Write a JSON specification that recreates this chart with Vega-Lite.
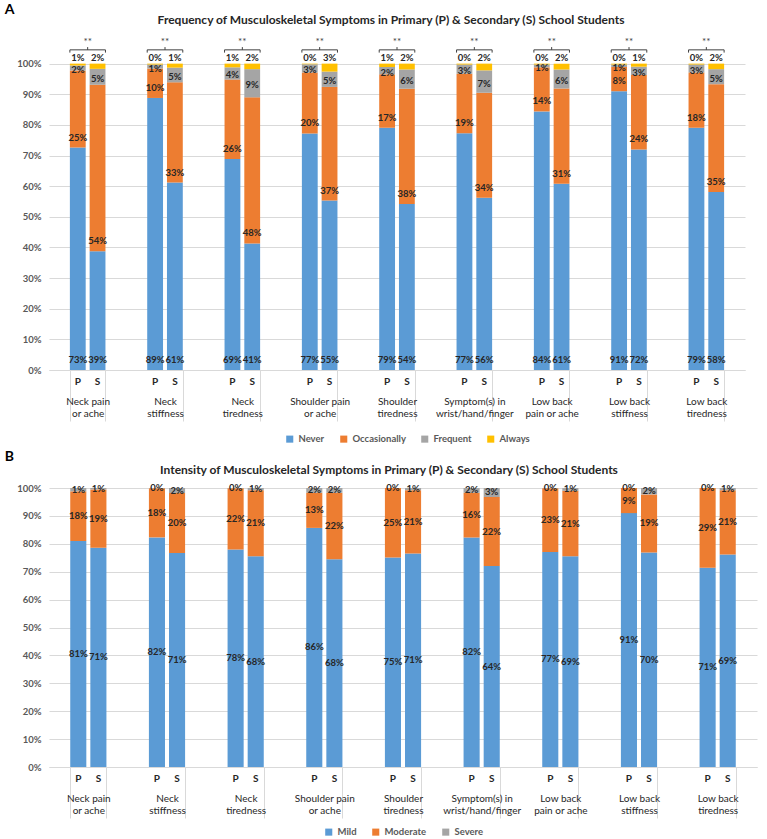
{
  "$schema": "https://vega.github.io/schema/vega-lite/v6.json",
  "padding": {"left": 4, "top": 3, "right": 4, "bottom": 0},
  "background": "white",
  "datasets": {
    "frequency": [
      {"symptom": "Neck pain\nor ache", "school": "P", "level": "Never", "pct": 0.726},
      {"symptom": "Neck pain\nor ache", "school": "P", "level": "Occasionally", "pct": 0.252},
      {"symptom": "Neck pain\nor ache", "school": "P", "level": "Frequent", "pct": 0.016},
      {"symptom": "Neck pain\nor ache", "school": "P", "level": "Always", "pct": 0.006},
      {"symptom": "Neck pain\nor ache", "school": "S", "level": "Never", "pct": 0.388},
      {"symptom": "Neck pain\nor ache", "school": "S", "level": "Occasionally", "pct": 0.543},
      {"symptom": "Neck pain\nor ache", "school": "S", "level": "Frequent", "pct": 0.052},
      {"symptom": "Neck pain\nor ache", "school": "S", "level": "Always", "pct": 0.017},
      {"symptom": "Neck\nstiffness", "school": "P", "level": "Never", "pct": 0.888},
      {"symptom": "Neck\nstiffness", "school": "P", "level": "Occasionally", "pct": 0.096},
      {"symptom": "Neck\nstiffness", "school": "P", "level": "Frequent", "pct": 0.013},
      {"symptom": "Neck\nstiffness", "school": "P", "level": "Always", "pct": 0.003},
      {"symptom": "Neck\nstiffness", "school": "S", "level": "Never", "pct": 0.612},
      {"symptom": "Neck\nstiffness", "school": "S", "level": "Occasionally", "pct": 0.327},
      {"symptom": "Neck\nstiffness", "school": "S", "level": "Frequent", "pct": 0.048},
      {"symptom": "Neck\nstiffness", "school": "S", "level": "Always", "pct": 0.013},
      {"symptom": "Neck\ntiredness", "school": "P", "level": "Never", "pct": 0.689},
      {"symptom": "Neck\ntiredness", "school": "P", "level": "Occasionally", "pct": 0.259},
      {"symptom": "Neck\ntiredness", "school": "P", "level": "Frequent", "pct": 0.04},
      {"symptom": "Neck\ntiredness", "school": "P", "level": "Always", "pct": 0.012},
      {"symptom": "Neck\ntiredness", "school": "S", "level": "Never", "pct": 0.413},
      {"symptom": "Neck\ntiredness", "school": "S", "level": "Occasionally", "pct": 0.477},
      {"symptom": "Neck\ntiredness", "school": "S", "level": "Frequent", "pct": 0.092},
      {"symptom": "Neck\ntiredness", "school": "S", "level": "Always", "pct": 0.018},
      {"symptom": "Shoulder pain\nor ache", "school": "P", "level": "Never", "pct": 0.772},
      {"symptom": "Shoulder pain\nor ache", "school": "P", "level": "Occasionally", "pct": 0.199},
      {"symptom": "Shoulder pain\nor ache", "school": "P", "level": "Frequent", "pct": 0.027},
      {"symptom": "Shoulder pain\nor ache", "school": "P", "level": "Always", "pct": 0.002},
      {"symptom": "Shoulder pain\nor ache", "school": "S", "level": "Never", "pct": 0.553},
      {"symptom": "Shoulder pain\nor ache", "school": "S", "level": "Occasionally", "pct": 0.371},
      {"symptom": "Shoulder pain\nor ache", "school": "S", "level": "Frequent", "pct": 0.05},
      {"symptom": "Shoulder pain\nor ache", "school": "S", "level": "Always", "pct": 0.026},
      {"symptom": "Shoulder\ntiredness", "school": "P", "level": "Never", "pct": 0.791},
      {"symptom": "Shoulder\ntiredness", "school": "P", "level": "Occasionally", "pct": 0.174},
      {"symptom": "Shoulder\ntiredness", "school": "P", "level": "Frequent", "pct": 0.024},
      {"symptom": "Shoulder\ntiredness", "school": "P", "level": "Always", "pct": 0.011},
      {"symptom": "Shoulder\ntiredness", "school": "S", "level": "Never", "pct": 0.542},
      {"symptom": "Shoulder\ntiredness", "school": "S", "level": "Occasionally", "pct": 0.376},
      {"symptom": "Shoulder\ntiredness", "school": "S", "level": "Frequent", "pct": 0.063},
      {"symptom": "Shoulder\ntiredness", "school": "S", "level": "Always", "pct": 0.019},
      {"symptom": "Symptom(s) in\nwrist/hand/finger", "school": "P", "level": "Never", "pct": 0.773},
      {"symptom": "Symptom(s) in\nwrist/hand/finger", "school": "P", "level": "Occasionally", "pct": 0.194},
      {"symptom": "Symptom(s) in\nwrist/hand/finger", "school": "P", "level": "Frequent", "pct": 0.03},
      {"symptom": "Symptom(s) in\nwrist/hand/finger", "school": "P", "level": "Always", "pct": 0.003},
      {"symptom": "Symptom(s) in\nwrist/hand/finger", "school": "S", "level": "Never", "pct": 0.562},
      {"symptom": "Symptom(s) in\nwrist/hand/finger", "school": "S", "level": "Occasionally", "pct": 0.343},
      {"symptom": "Symptom(s) in\nwrist/hand/finger", "school": "S", "level": "Frequent", "pct": 0.073},
      {"symptom": "Symptom(s) in\nwrist/hand/finger", "school": "S", "level": "Always", "pct": 0.022},
      {"symptom": "Low back\npain or ache", "school": "P", "level": "Never", "pct": 0.844},
      {"symptom": "Low back\npain or ache", "school": "P", "level": "Occasionally", "pct": 0.144},
      {"symptom": "Low back\npain or ache", "school": "P", "level": "Frequent", "pct": 0.009},
      {"symptom": "Low back\npain or ache", "school": "P", "level": "Always", "pct": 0.003},
      {"symptom": "Low back\npain or ache", "school": "S", "level": "Never", "pct": 0.608},
      {"symptom": "Low back\npain or ache", "school": "S", "level": "Occasionally", "pct": 0.311},
      {"symptom": "Low back\npain or ache", "school": "S", "level": "Frequent", "pct": 0.062},
      {"symptom": "Low back\npain or ache", "school": "S", "level": "Always", "pct": 0.019},
      {"symptom": "Low back\nstiffness", "school": "P", "level": "Never", "pct": 0.91},
      {"symptom": "Low back\nstiffness", "school": "P", "level": "Occasionally", "pct": 0.079},
      {"symptom": "Low back\nstiffness", "school": "P", "level": "Frequent", "pct": 0.008},
      {"symptom": "Low back\nstiffness", "school": "P", "level": "Always", "pct": 0.003},
      {"symptom": "Low back\nstiffness", "school": "S", "level": "Never", "pct": 0.72},
      {"symptom": "Low back\nstiffness", "school": "S", "level": "Occasionally", "pct": 0.243},
      {"symptom": "Low back\nstiffness", "school": "S", "level": "Frequent", "pct": 0.027},
      {"symptom": "Low back\nstiffness", "school": "S", "level": "Always", "pct": 0.01},
      {"symptom": "Low back\ntiredness", "school": "P", "level": "Never", "pct": 0.791},
      {"symptom": "Low back\ntiredness", "school": "P", "level": "Occasionally", "pct": 0.18},
      {"symptom": "Low back\ntiredness", "school": "P", "level": "Frequent", "pct": 0.026},
      {"symptom": "Low back\ntiredness", "school": "P", "level": "Always", "pct": 0.003},
      {"symptom": "Low back\ntiredness", "school": "S", "level": "Never", "pct": 0.581},
      {"symptom": "Low back\ntiredness", "school": "S", "level": "Occasionally", "pct": 0.352},
      {"symptom": "Low back\ntiredness", "school": "S", "level": "Frequent", "pct": 0.049},
      {"symptom": "Low back\ntiredness", "school": "S", "level": "Always", "pct": 0.018}
    ],
    "intensity": [
      {"symptom": "Neck pain\nor ache", "school": "P", "level": "Mild", "pct": 0.81, "label": 0.81},
      {"symptom": "Neck pain\nor ache", "school": "P", "level": "Moderate", "pct": 0.178, "label": 0.18},
      {"symptom": "Neck pain\nor ache", "school": "P", "level": "Severe", "pct": 0.012, "label": 0.01},
      {"symptom": "Neck pain\nor ache", "school": "S", "level": "Mild", "pct": 0.786, "label": 0.71},
      {"symptom": "Neck pain\nor ache", "school": "S", "level": "Moderate", "pct": 0.209, "label": 0.19},
      {"symptom": "Neck pain\nor ache", "school": "S", "level": "Severe", "pct": 0.005, "label": 0.01},
      {"symptom": "Neck\nstiffness", "school": "P", "level": "Mild", "pct": 0.823, "label": 0.82},
      {"symptom": "Neck\nstiffness", "school": "P", "level": "Moderate", "pct": 0.176, "label": 0.18},
      {"symptom": "Neck\nstiffness", "school": "P", "level": "Severe", "pct": 0.001, "label": 0},
      {"symptom": "Neck\nstiffness", "school": "S", "level": "Mild", "pct": 0.767, "label": 0.71},
      {"symptom": "Neck\nstiffness", "school": "S", "level": "Moderate", "pct": 0.215, "label": 0.2},
      {"symptom": "Neck\nstiffness", "school": "S", "level": "Severe", "pct": 0.018, "label": 0.02},
      {"symptom": "Neck\ntiredness", "school": "P", "level": "Mild", "pct": 0.78, "label": 0.78},
      {"symptom": "Neck\ntiredness", "school": "P", "level": "Moderate", "pct": 0.219, "label": 0.22},
      {"symptom": "Neck\ntiredness", "school": "P", "level": "Severe", "pct": 0.001, "label": 0},
      {"symptom": "Neck\ntiredness", "school": "S", "level": "Mild", "pct": 0.755, "label": 0.68},
      {"symptom": "Neck\ntiredness", "school": "S", "level": "Moderate", "pct": 0.237, "label": 0.21},
      {"symptom": "Neck\ntiredness", "school": "S", "level": "Severe", "pct": 0.008, "label": 0.01},
      {"symptom": "Shoulder pain\nor ache", "school": "P", "level": "Mild", "pct": 0.857, "label": 0.86},
      {"symptom": "Shoulder pain\nor ache", "school": "P", "level": "Moderate", "pct": 0.126, "label": 0.13},
      {"symptom": "Shoulder pain\nor ache", "school": "P", "level": "Severe", "pct": 0.017, "label": 0.02},
      {"symptom": "Shoulder pain\nor ache", "school": "S", "level": "Mild", "pct": 0.745, "label": 0.68},
      {"symptom": "Shoulder pain\nor ache", "school": "S", "level": "Moderate", "pct": 0.238, "label": 0.22},
      {"symptom": "Shoulder pain\nor ache", "school": "S", "level": "Severe", "pct": 0.017, "label": 0.02},
      {"symptom": "Shoulder\ntiredness", "school": "P", "level": "Mild", "pct": 0.751, "label": 0.75},
      {"symptom": "Shoulder\ntiredness", "school": "P", "level": "Moderate", "pct": 0.249, "label": 0.25},
      {"symptom": "Shoulder\ntiredness", "school": "P", "level": "Severe", "pct": 0, "label": 0},
      {"symptom": "Shoulder\ntiredness", "school": "S", "level": "Mild", "pct": 0.765, "label": 0.71},
      {"symptom": "Shoulder\ntiredness", "school": "S", "level": "Moderate", "pct": 0.227, "label": 0.21},
      {"symptom": "Shoulder\ntiredness", "school": "S", "level": "Severe", "pct": 0.008, "label": 0.01},
      {"symptom": "Symptom(s) in\nwrist/hand/finger", "school": "P", "level": "Mild", "pct": 0.823, "label": 0.82},
      {"symptom": "Symptom(s) in\nwrist/hand/finger", "school": "P", "level": "Moderate", "pct": 0.16, "label": 0.16},
      {"symptom": "Symptom(s) in\nwrist/hand/finger", "school": "P", "level": "Severe", "pct": 0.017, "label": 0.02},
      {"symptom": "Symptom(s) in\nwrist/hand/finger", "school": "S", "level": "Mild", "pct": 0.72, "label": 0.64},
      {"symptom": "Symptom(s) in\nwrist/hand/finger", "school": "S", "level": "Moderate", "pct": 0.248, "label": 0.22},
      {"symptom": "Symptom(s) in\nwrist/hand/finger", "school": "S", "level": "Severe", "pct": 0.032, "label": 0.03},
      {"symptom": "Low back\npain or ache", "school": "P", "level": "Mild", "pct": 0.771, "label": 0.77},
      {"symptom": "Low back\npain or ache", "school": "P", "level": "Moderate", "pct": 0.228, "label": 0.23},
      {"symptom": "Low back\npain or ache", "school": "P", "level": "Severe", "pct": 0.001, "label": 0},
      {"symptom": "Low back\npain or ache", "school": "S", "level": "Mild", "pct": 0.755, "label": 0.69},
      {"symptom": "Low back\npain or ache", "school": "S", "level": "Moderate", "pct": 0.235, "label": 0.21},
      {"symptom": "Low back\npain or ache", "school": "S", "level": "Severe", "pct": 0.01, "label": 0.01},
      {"symptom": "Low back\nstiffness", "school": "P", "level": "Mild", "pct": 0.91, "label": 0.91},
      {"symptom": "Low back\nstiffness", "school": "P", "level": "Moderate", "pct": 0.09, "label": 0.09},
      {"symptom": "Low back\nstiffness", "school": "P", "level": "Severe", "pct": 0, "label": 0},
      {"symptom": "Low back\nstiffness", "school": "S", "level": "Mild", "pct": 0.769, "label": 0.7},
      {"symptom": "Low back\nstiffness", "school": "S", "level": "Moderate", "pct": 0.208, "label": 0.19},
      {"symptom": "Low back\nstiffness", "school": "S", "level": "Severe", "pct": 0.023, "label": 0.02},
      {"symptom": "Low back\ntiredness", "school": "P", "level": "Mild", "pct": 0.714, "label": 0.71},
      {"symptom": "Low back\ntiredness", "school": "P", "level": "Moderate", "pct": 0.286, "label": 0.29},
      {"symptom": "Low back\ntiredness", "school": "P", "level": "Severe", "pct": 0, "label": 0},
      {"symptom": "Low back\ntiredness", "school": "S", "level": "Mild", "pct": 0.762, "label": 0.69},
      {"symptom": "Low back\ntiredness", "school": "S", "level": "Moderate", "pct": 0.23, "label": 0.21},
      {"symptom": "Low back\ntiredness", "school": "S", "level": "Severe", "pct": 0.008, "label": 0.01}
    ],
    "significance": [
      {"symptom": "Neck pain\nor ache", "sig": "**"},
      {"symptom": "Neck\nstiffness", "sig": "**"},
      {"symptom": "Neck\ntiredness", "sig": "**"},
      {"symptom": "Shoulder pain\nor ache", "sig": "**"},
      {"symptom": "Shoulder\ntiredness", "sig": "**"},
      {"symptom": "Symptom(s) in\nwrist/hand/finger", "sig": "**"},
      {"symptom": "Low back\npain or ache", "sig": "**"},
      {"symptom": "Low back\nstiffness", "sig": "**"},
      {"symptom": "Low back\ntiredness", "sig": "**"}
    ]
  },
  "spacing": 6,
  "vconcat": [
    {
      "title": {"text": "A", "anchor": "start", "fontSize": 14, "fontWeight": "bold", "color": "black", "dx": -12, "offset": -3},
      "vconcat": [
        {
          "width": 696,
          "height": 337,
          "title": {"text": "Frequency of Musculoskeletal Symptoms in Primary (P) & Secondary (S)  School Students", "dx": -6},
          "layer": [
            {
              "data": {"name": "frequency"},
              "transform": [
                {"calculate": "indexof(['Never','Occasionally','Frequent','Always'], datum.level)", "as": "ord"},
                {"stack": "pct", "groupby": ["symptom", "school"], "sort": [{"field": "ord", "order": "ascending"}], "as": ["y0", "y1"]},
                {"calculate": "(datum.y0 + datum.y1) / 2", "as": "ymid"}
              ],
              "layer": [
                {
                  "mark": {"type": "bar"},
                  "encoding": {
                    "x": {
                      "field": "symptom", "type": "nominal",
                      "sort": ["Neck pain\nor ache", "Neck\nstiffness", "Neck\ntiredness", "Shoulder pain\nor ache", "Shoulder\ntiredness", "Symptom(s) in\nwrist/hand/finger", "Low back\npain or ache", "Low back\nstiffness", "Low back\ntiredness"],
                      "scale": {"paddingInner": 0.54, "paddingOuter": 0.27},
                      "axis": {"title": null, "labelExpr": "split(datum.label, '\\n')", "tickBand": "extent", "tickSize": 51, "tickColor": "#d9d9d9", "domainColor": "#d9d9d9", "labelPadding": -25, "labelAngle": 0, "labelBaseline": "top", "labelLineHeight": 12, "labelFontWeight": "normal", "labelColor": "#262626", "labelFontSize": 10}
                    },
                    "xOffset": {"field": "school", "type": "nominal", "scale": {"paddingInner": 0.2}},
                    "y": {
                      "field": "y1", "type": "quantitative",
                      "scale": {"domain": [0, 1.1], "nice": false},
                      "axis": {"title": null, "values": [0, 0.1, 0.2, 0.3, 0.4, 0.5, 0.6, 0.7, 0.8, 0.9, 1], "format": ".0%", "grid": true, "gridColor": "#d9d9d9", "domain": false, "ticks": false, "labelPadding": 8, "labelOverlap": false}
                    },
                    "y2": {"field": "y0"},
                    "color": {
                      "field": "level", "type": "nominal",
                      "scale": {"domain": ["Never", "Occasionally", "Frequent", "Always"], "range": ["#5b9bd5", "#ed7d31", "#a5a5a5", "#ffc000"]},
                      "legend": {"title": null, "orient": "none", "legendX": 236, "legendY": 401, "direction": "horizontal", "symbolType": "square", "symbolSize": 50, "columnPadding": 14}
                    }
                  }
                },
                {
                  "transform": [{"filter": "datum.level === 'Never'"}],
                  "mark": {"type": "text", "dy": 12, "fontSize": 10},
                  "encoding": {
                    "x": {"field": "symptom", "type": "nominal", "sort": ["Neck pain\nor ache", "Neck\nstiffness", "Neck\ntiredness", "Shoulder pain\nor ache", "Shoulder\ntiredness", "Symptom(s) in\nwrist/hand/finger", "Low back\npain or ache", "Low back\nstiffness", "Low back\ntiredness"]},
                    "xOffset": {"field": "school", "type": "nominal"},
                    "y": {"datum": 0, "axis": {"title": null, "values": [0, 0.1, 0.2, 0.3, 0.4, 0.5, 0.6, 0.7, 0.8, 0.9, 1], "format": ".0%", "grid": true, "gridColor": "#d9d9d9", "domain": false, "ticks": false, "labelPadding": 8, "labelOverlap": false}},
                    "text": {"field": "school"}
                  }
                },
                {
                  "transform": [{"filter": "datum.level === 'Never' || datum.level === 'Occasionally'"}],
                  "mark": {"type": "text", "dy": -10},
                  "encoding": {
                    "x": {"field": "symptom", "type": "nominal", "sort": ["Neck pain\nor ache", "Neck\nstiffness", "Neck\ntiredness", "Shoulder pain\nor ache", "Shoulder\ntiredness", "Symptom(s) in\nwrist/hand/finger", "Low back\npain or ache", "Low back\nstiffness", "Low back\ntiredness"]},
                    "xOffset": {"field": "school", "type": "nominal"},
                    "y": {"field": "y0", "type": "quantitative", "axis": {"title": null, "values": [0, 0.1, 0.2, 0.3, 0.4, 0.5, 0.6, 0.7, 0.8, 0.9, 1], "format": ".0%", "grid": true, "gridColor": "#d9d9d9", "domain": false, "ticks": false, "labelPadding": 8, "labelOverlap": false}},
                    "text": {"field": "pct", "type": "quantitative", "format": ".0%"}
                  }
                },
                {
                  "transform": [{"filter": "datum.level === 'Frequent'"}],
                  "mark": {"type": "text", "dy": 2},
                  "encoding": {
                    "x": {"field": "symptom", "type": "nominal", "sort": ["Neck pain\nor ache", "Neck\nstiffness", "Neck\ntiredness", "Shoulder pain\nor ache", "Shoulder\ntiredness", "Symptom(s) in\nwrist/hand/finger", "Low back\npain or ache", "Low back\nstiffness", "Low back\ntiredness"]},
                    "xOffset": {"field": "school", "type": "nominal"},
                    "y": {"field": "ymid", "type": "quantitative", "axis": {"title": null, "values": [0, 0.1, 0.2, 0.3, 0.4, 0.5, 0.6, 0.7, 0.8, 0.9, 1], "format": ".0%", "grid": true, "gridColor": "#d9d9d9", "domain": false, "ticks": false, "labelPadding": 8, "labelOverlap": false}},
                    "text": {"field": "pct", "type": "quantitative", "format": ".0%"}
                  }
                },
                {
                  "transform": [{"filter": "datum.level === 'Always'"}],
                  "mark": {"type": "text", "baseline": "bottom", "dy": -1},
                  "encoding": {
                    "x": {"field": "symptom", "type": "nominal", "sort": ["Neck pain\nor ache", "Neck\nstiffness", "Neck\ntiredness", "Shoulder pain\nor ache", "Shoulder\ntiredness", "Symptom(s) in\nwrist/hand/finger", "Low back\npain or ache", "Low back\nstiffness", "Low back\ntiredness"]},
                    "xOffset": {"field": "school", "type": "nominal"},
                    "y": {"field": "y1", "type": "quantitative", "axis": {"title": null, "values": [0, 0.1, 0.2, 0.3, 0.4, 0.5, 0.6, 0.7, 0.8, 0.9, 1], "format": ".0%", "grid": true, "gridColor": "#d9d9d9", "domain": false, "ticks": false, "labelPadding": 8, "labelOverlap": false}},
                    "text": {"field": "pct", "type": "quantitative", "format": ".0%"}
                  }
                }
              ]
            },
            {
              "data": {"name": "significance"},
              "layer": [
                {
                  "mark": {"type": "rule", "color": "#404040", "strokeWidth": 1},
                  "encoding": {
                    "x": {"field": "symptom", "type": "nominal", "bandPosition": 0, "sort": ["Neck pain\nor ache", "Neck\nstiffness", "Neck\ntiredness", "Shoulder pain\nor ache", "Shoulder\ntiredness", "Symptom(s) in\nwrist/hand/finger", "Low back\npain or ache", "Low back\nstiffness", "Low back\ntiredness"]},
                    "x2": {"field": "symptom", "bandPosition": 1},
                    "y": {"datum": 1.045, "axis": {"title": null, "values": [0, 0.1, 0.2, 0.3, 0.4, 0.5, 0.6, 0.7, 0.8, 0.9, 1], "format": ".0%", "grid": true, "gridColor": "#d9d9d9", "domain": false, "ticks": false, "labelPadding": 8, "labelOverlap": false}}
                  }
                },
                {
                  "mark": {"type": "rule", "color": "#404040", "strokeWidth": 1},
                  "encoding": {
                    "x": {"field": "symptom", "type": "nominal", "bandPosition": 0, "sort": ["Neck pain\nor ache", "Neck\nstiffness", "Neck\ntiredness", "Shoulder pain\nor ache", "Shoulder\ntiredness", "Symptom(s) in\nwrist/hand/finger", "Low back\npain or ache", "Low back\nstiffness", "Low back\ntiredness"]},
                    "y": {"datum": 1.036, "axis": {"title": null, "values": [0, 0.1, 0.2, 0.3, 0.4, 0.5, 0.6, 0.7, 0.8, 0.9, 1], "format": ".0%", "grid": true, "gridColor": "#d9d9d9", "domain": false, "ticks": false, "labelPadding": 8, "labelOverlap": false}},
                    "y2": {"datum": 1.045}
                  }
                },
                {
                  "mark": {"type": "rule", "color": "#404040", "strokeWidth": 1},
                  "encoding": {
                    "x": {"field": "symptom", "type": "nominal", "bandPosition": 1, "sort": ["Neck pain\nor ache", "Neck\nstiffness", "Neck\ntiredness", "Shoulder pain\nor ache", "Shoulder\ntiredness", "Symptom(s) in\nwrist/hand/finger", "Low back\npain or ache", "Low back\nstiffness", "Low back\ntiredness"]},
                    "y": {"datum": 1.036, "axis": {"title": null, "values": [0, 0.1, 0.2, 0.3, 0.4, 0.5, 0.6, 0.7, 0.8, 0.9, 1], "format": ".0%", "grid": true, "gridColor": "#d9d9d9", "domain": false, "ticks": false, "labelPadding": 8, "labelOverlap": false}},
                    "y2": {"datum": 1.045}
                  }
                },
                {
                  "mark": {"type": "rule", "color": "#404040", "strokeWidth": 1},
                  "encoding": {
                    "x": {"field": "symptom", "type": "nominal", "bandPosition": 0.5, "sort": ["Neck pain\nor ache", "Neck\nstiffness", "Neck\ntiredness", "Shoulder pain\nor ache", "Shoulder\ntiredness", "Symptom(s) in\nwrist/hand/finger", "Low back\npain or ache", "Low back\nstiffness", "Low back\ntiredness"]},
                    "y": {"datum": 1.045, "axis": {"title": null, "values": [0, 0.1, 0.2, 0.3, 0.4, 0.5, 0.6, 0.7, 0.8, 0.9, 1], "format": ".0%", "grid": true, "gridColor": "#d9d9d9", "domain": false, "ticks": false, "labelPadding": 8, "labelOverlap": false}},
                    "y2": {"datum": 1.054}
                  }
                },
                {
                  "mark": {"type": "text", "fontWeight": "normal", "fontSize": 10, "color": "#404040"},
                  "encoding": {
                    "x": {"field": "symptom", "type": "nominal", "bandPosition": 0.5, "sort": ["Neck pain\nor ache", "Neck\nstiffness", "Neck\ntiredness", "Shoulder pain\nor ache", "Shoulder\ntiredness", "Symptom(s) in\nwrist/hand/finger", "Low back\npain or ache", "Low back\nstiffness", "Low back\ntiredness"]},
                    "y": {"datum": 1.072, "axis": {"title": null, "values": [0, 0.1, 0.2, 0.3, 0.4, 0.5, 0.6, 0.7, 0.8, 0.9, 1], "format": ".0%", "grid": true, "gridColor": "#d9d9d9", "domain": false, "ticks": false, "labelPadding": 8, "labelOverlap": false}},
                    "text": {"field": "sig"}
                  }
                }
              ]
            }
          ]
        }
      ]
    },
    {
      "title": {"text": "B", "anchor": "start", "fontSize": 14, "fontWeight": "bold", "color": "black", "dx": -12, "offset": 0},
      "vconcat": [
        {
          "width": 708,
          "height": 279,
          "title": {"text": "Intensity of Musculoskeletal Symptoms in Primary (P) & Secondary (S) School Students", "dx": -14},
          "data": {"name": "intensity"},
          "transform": [
            {"calculate": "indexof(['Mild','Moderate','Severe'], datum.level)", "as": "ord"},
            {"stack": "pct", "groupby": ["symptom", "school"], "sort": [{"field": "ord", "order": "ascending"}], "as": ["y0", "y1"]},
            {"calculate": "(datum.y0 + datum.y1) / 2", "as": "ymid"}
          ],
          "layer": [
            {
              "mark": {"type": "bar"},
              "encoding": {
                "x": {
                  "field": "symptom", "type": "nominal",
                  "sort": ["Neck pain\nor ache", "Neck\nstiffness", "Neck\ntiredness", "Shoulder pain\nor ache", "Shoulder\ntiredness", "Symptom(s) in\nwrist/hand/finger", "Low back\npain or ache", "Low back\nstiffness", "Low back\ntiredness"],
                  "scale": {"paddingInner": 0.54, "paddingOuter": 0.27},
                  "axis": {"title": null, "labelExpr": "split(datum.label, '\\n')", "tickBand": "extent", "tickSize": 51, "tickColor": "#d9d9d9", "domainColor": "#d9d9d9", "labelPadding": -25, "labelAngle": 0, "labelBaseline": "top", "labelLineHeight": 12, "labelFontWeight": "normal", "labelColor": "#262626", "labelFontSize": 10}
                },
                "xOffset": {"field": "school", "type": "nominal", "scale": {"paddingInner": 0.2}},
                "y": {
                  "field": "y1", "type": "quantitative",
                  "scale": {"domain": [0, 1], "nice": false},
                  "axis": {"title": null, "values": [0, 0.1, 0.2, 0.3, 0.4, 0.5, 0.6, 0.7, 0.8, 0.9, 1], "format": ".0%", "grid": true, "gridColor": "#d9d9d9", "domain": false, "ticks": false, "labelPadding": 8, "labelOverlap": false}
                },
                "y2": {"field": "y0"},
                "color": {
                  "field": "level", "type": "nominal",
                  "scale": {"domain": ["Mild", "Moderate", "Severe"], "range": ["#5b9bd5", "#ed7d31", "#a5a5a5"]},
                  "legend": {"title": null, "orient": "none", "legendX": 275, "legendY": 339, "direction": "horizontal", "symbolType": "square", "symbolSize": 50, "columnPadding": 14}
                }
              }
            },
            {
              "transform": [{"filter": "datum.level === 'Mild'"}],
              "mark": {"type": "text", "dy": 12, "fontSize": 10},
              "encoding": {
                "x": {"field": "symptom", "type": "nominal", "sort": ["Neck pain\nor ache", "Neck\nstiffness", "Neck\ntiredness", "Shoulder pain\nor ache", "Shoulder\ntiredness", "Symptom(s) in\nwrist/hand/finger", "Low back\npain or ache", "Low back\nstiffness", "Low back\ntiredness"]},
                "xOffset": {"field": "school", "type": "nominal"},
                "y": {"datum": 0, "axis": {"title": null, "values": [0, 0.1, 0.2, 0.3, 0.4, 0.5, 0.6, 0.7, 0.8, 0.9, 1], "format": ".0%", "grid": true, "gridColor": "#d9d9d9", "domain": false, "ticks": false, "labelPadding": 8, "labelOverlap": false}},
                "text": {"field": "school"}
              }
            },
            {
              "mark": {"type": "text"},
              "encoding": {
                "x": {"field": "symptom", "type": "nominal", "sort": ["Neck pain\nor ache", "Neck\nstiffness", "Neck\ntiredness", "Shoulder pain\nor ache", "Shoulder\ntiredness", "Symptom(s) in\nwrist/hand/finger", "Low back\npain or ache", "Low back\nstiffness", "Low back\ntiredness"]},
                "xOffset": {"field": "school", "type": "nominal"},
                "y": {"field": "ymid", "type": "quantitative", "axis": {"title": null, "values": [0, 0.1, 0.2, 0.3, 0.4, 0.5, 0.6, 0.7, 0.8, 0.9, 1], "format": ".0%", "grid": true, "gridColor": "#d9d9d9", "domain": false, "ticks": false, "labelPadding": 8, "labelOverlap": false}},
                "text": {"field": "label", "type": "quantitative", "format": ".0%"}
              }
            }
          ]
        }
      ]
    }
  ],
  "resolve": {
    "scale": {"color": "independent", "x": "independent", "y": "independent", "xOffset": "independent"},
    "legend": {"color": "independent"}
  },
  "config": {
    "font": "Lato",
    "view": {"stroke": null},
    "text": {"font": "Lato", "fontSize": 9.5, "fontWeight": "bold", "color": "#262626"},
    "axis": {"labelFont": "Lato", "labelFontSize": 9.5, "labelFontWeight": "bold", "labelColor": "#595959"},
    "legend": {"labelFont": "Lato", "labelFontSize": 9.5, "labelColor": "#595959", "labelFontWeight": "bold"},
    "title": {"font": "Lato", "fontSize": 12, "fontWeight": "bold", "color": "#262626", "offset": 6}
  }
}
